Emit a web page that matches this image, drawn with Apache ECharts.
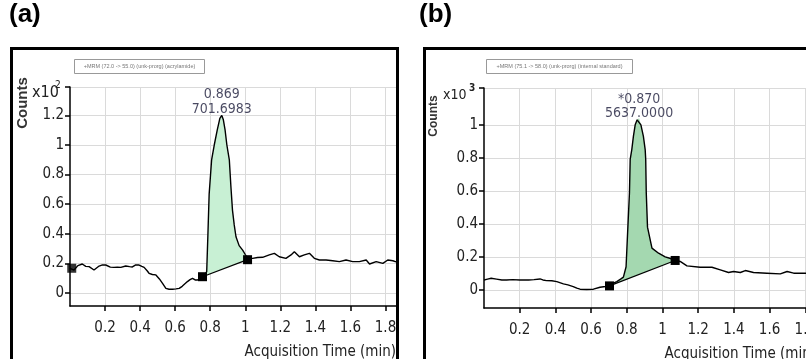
<!DOCTYPE html>
<html><head><meta charset="utf-8">
<script src="https://cdn.jsdelivr.net/npm/echarts@6/dist/echarts.min.js"></script>
<style>html,body{margin:0;padding:0;background:#fff}#c{width:806px;height:359px}</style>
</head><body><div id="c"></div>
<script>
// ---- Panel (a): acrylamide ----
const timeA = [0.00,0.023,0.045,0.07,0.09,0.109,0.137,0.166,0.185,0.204,0.23,0.251,0.27,0.29,0.318,0.34,0.356,0.375,0.394,0.41,0.423,0.44,0.451,0.47,0.49,0.51,0.528,0.547,0.565,0.585,0.605,0.623,0.64,0.651,0.67,0.685,0.699,0.714,0.728,0.742,0.756,0.77,0.78,0.787,0.794,0.808,0.823,0.84,0.855,0.866,0.875,0.885,0.895,0.909,0.918,0.927,0.937,0.947,0.965,0.985,1.0,1.013,1.042,1.07,1.099,1.137,1.166,1.194,1.232,1.261,1.28,1.309,1.337,1.366,1.394,1.423,1.461,1.499,1.537,1.575,1.613,1.651,1.69,1.709,1.747,1.785,1.813,1.842,1.86];
const countsA = [0.167,0.155,0.185,0.196,0.18,0.178,0.155,0.182,0.19,0.189,0.175,0.173,0.175,0.173,0.182,0.178,0.176,0.19,0.189,0.18,0.173,0.15,0.133,0.125,0.122,0.095,0.065,0.031,0.025,0.025,0.028,0.031,0.045,0.054,0.077,0.09,0.099,0.088,0.088,0.1,0.11,0.125,0.145,0.4,0.67,0.9,1.0,1.1,1.18,1.2,1.17,1.1,1.0,0.9,0.72,0.56,0.46,0.38,0.32,0.29,0.26,0.235,0.234,0.24,0.241,0.257,0.268,0.245,0.234,0.257,0.279,0.245,0.257,0.268,0.234,0.223,0.223,0.218,0.212,0.223,0.212,0.212,0.223,0.196,0.212,0.2,0.223,0.218,0.21];
const integMarksA = [[0.756,0.11],[1.013,0.225]];
const startMarkA = [[0.01,0.167]];
const peakPointA = [[0.866,1.2]];
const peakTextA = ['0.869','701.6983'];
const yTicksA = [0,0.2,0.4,0.6,0.8,1,1.2,1.392];
const yLabelsA = ['0','0.2','0.4','0.6','0.8','1','1.2',''];
const headerA = '+MRM (72.0 -> 55.0) (unk-prorg) (acrylamide)';

// ---- Panel (b): internal standard ----
const timeB = [0,0.02,0.04,0.07,0.1,0.127,0.16,0.2,0.25,0.28,0.314,0.33,0.35,0.38,0.408,0.445,0.47,0.5,0.52,0.538,0.575,0.613,0.65,0.68,0.703,0.725,0.744,0.765,0.781,0.796,0.806,0.815,0.819,0.828,0.837,0.847,0.858,0.869,0.879,0.893,0.903,0.906,0.909,0.916,0.941,0.978,1.015,1.045,1.071,1.099,1.137,1.211,1.277,1.324,1.37,1.398,1.436,1.464,1.51,1.585,1.66,1.698,1.735,1.8,1.86];
const countsB = [0.06,0.065,0.07,0.065,0.06,0.06,0.062,0.06,0.06,0.062,0.066,0.06,0.056,0.055,0.05,0.036,0.03,0.02,0.01,0.004,0.002,0.004,0.016,0.02,0.024,0.04,0.05,0.065,0.077,0.14,0.38,0.59,0.79,0.85,0.93,1.0,1.03,1.04,1.0,0.93,0.85,0.79,0.59,0.38,0.253,0.222,0.2,0.19,0.178,0.172,0.145,0.137,0.137,0.121,0.105,0.111,0.105,0.117,0.105,0.101,0.097,0.111,0.101,0.101,0.1];
const integMarksB = [[0.703,0.024],[1.071,0.178]];
const peakPointB = [[0.869,1.04]];
const peakTextB = ['*0.870','5637.0000'];
const yTicksB = [0,0.2,0.4,0.6,0.8,1,1.223];
const yLabelsB = ['0','0.2','0.4','0.6','0.8','1',''];
const headerB = '+MRM (75.1 -> 58.0) (unk-prorg) (internal standard)';

const xTicks = [0.2,0.4,0.6,0.8,1,1.2,1.4,1.6,1.8];
const xLabels = ['0.2','0.4','0.6','0.8','1','1.2','1.4','1.6','1.8'];

const NF = "'Liberation Sans Narrow','DejaVu Sans Condensed','Liberation Sans',sans-serif";
const zip = (a,b)=>a.map((v,i)=>[v,b[i]]);
const lookup = (ticks, labels) => v => { let bi=0, bd=1e9; ticks.forEach((t,i)=>{const d=Math.abs(t-v); if(d<bd){bd=d;bi=i;}}); return labels[bi]; };

function fillRender(times, counts, marks, color){
  return function(params, api){
    const pts=[api.coord(marks[0])];
    for(let i=0;i<times.length;i++){
      if(times[i]>marks[0][0] && times[i]<marks[1][0]) pts.push(api.coord([times[i],counts[i]]));
    }
    pts.push(api.coord(marks[1]));
    return {type:'polygon', shape:{points:pts}, style:{fill:color}};
  };
}

function xAxisCfg(gi, max, nameFs){
  return {gridIndex:gi, type:'value', min:0, max:max,
    axisLine:{onZero:false, lineStyle:{color:'#000', width:1.5}},
    axisTick:{customValues:xTicks, length:5, lineStyle:{color:'#000', width:1.5}},
    axisLabel:{customValues:xTicks, formatter:lookup(xTicks,xLabels), color:'#222', fontSize:15, fontFamily:NF, margin:15},
    splitLine:{show:true, lineStyle:{color:'#dadada', width:1}},
    name:'Acquisition Time (min)', nameLocation:'end', nameGap:0,
    nameTextStyle:{align:'right', verticalAlign:'top', padding:[39,0,0,0], fontSize:nameFs, fontFamily:NF, color:'#222'}
  };
}
function yAxisCfg(gi, min, max, ticks, labels){
  return {gridIndex:gi, type:'value', min:min, max:max,
    axisLine:{show:true, lineStyle:{color:'#000', width:1.5}},
    axisTick:{show:true, customValues:ticks, length:5, lineStyle:{color:'#000', width:1.5}},
    axisLabel:{customValues:ticks, formatter:lookup(ticks,labels), color:'#222', fontSize:15, fontFamily:NF, margin:6},
    splitLine:{show:true, lineStyle:{color:'#dadada', width:1}}
  };
}

const chart = echarts.init(document.getElementById('c'), null, {renderer:'canvas'});
chart.setOption({
  animation:false,
  backgroundColor:'#fff',
  grid:[
    {left:70, top:87, width:326, height:219, outerBoundsMode:'none', containLabel:false},
    {left:484, top:88, width:332, height:220, outerBoundsMode:'none', containLabel:false}
  ],
  xAxis:[xAxisCfg(0,1.86,15), xAxisCfg(1,1.86,15)],
  yAxis:[yAxisCfg(0,-0.088,1.392,yTicksA,yLabelsA), yAxisCfg(1,-0.11,1.223,yTicksB,yLabelsB)],
  series:[
    {type:'custom', xAxisIndex:0, yAxisIndex:0, clip:true, data:[[0,0]], renderItem:fillRender(timeA,countsA,integMarksA,'#c8f0d4'), z:1, silent:true},
    {type:'line', xAxisIndex:0, yAxisIndex:0, data:zip(timeA,countsA), showSymbol:false, lineStyle:{color:'#000', width:1.4}, z:3},
    {type:'line', xAxisIndex:0, yAxisIndex:0, data:integMarksA, symbol:'rect', symbolSize:9, showSymbol:true, itemStyle:{color:'#000'}, lineStyle:{color:'#000', width:1.2}, z:4},
    {type:'scatter', xAxisIndex:0, yAxisIndex:0, data:startMarkA, symbol:'rect', symbolSize:9, itemStyle:{color:'#000'}, z:4},
    {type:'scatter', xAxisIndex:0, yAxisIndex:0, data:peakPointA, symbolSize:0, z:5,
      label:{show:true, position:'top', distance:-1, formatter:peakTextA.join('\n'), fontSize:14, lineHeight:15, fontFamily:NF, color:'#1c1c3a'}},

    {type:'custom', xAxisIndex:1, yAxisIndex:1, clip:true, data:[[0,0]], renderItem:fillRender(timeB,countsB,integMarksB,'#a4d8b0'), z:1, silent:true},
    {type:'line', xAxisIndex:1, yAxisIndex:1, data:zip(timeB,countsB), showSymbol:false, lineStyle:{color:'#000', width:1.4}, z:3},
    {type:'line', xAxisIndex:1, yAxisIndex:1, data:integMarksB, symbol:'rect', symbolSize:9, showSymbol:true, itemStyle:{color:'#000'}, lineStyle:{color:'#000', width:1.2}, z:4},
    {type:'scatter', xAxisIndex:1, yAxisIndex:1, data:peakPointB, symbolSize:0, z:5,
      label:{show:true, position:'top', distance:-2, formatter:peakTextB.join('\n'), fontSize:14, lineHeight:14, fontFamily:NF, color:'#1c1c3a'}}
  ],
  graphic:[
    {type:'rect', z:100, shape:{x:399, y:46, width:23, height:320}, style:{fill:'#fff'}},
    {type:'rect', z:101, shape:{x:11.5, y:48.5, width:386, height:330}, style:{fill:null, stroke:'#000', lineWidth:3}},
    {type:'rect', z:101, shape:{x:424.5, y:48.5, width:400, height:330}, style:{fill:null, stroke:'#000', lineWidth:3}},
    {type:'text', z:102, left:9, top:2, style:{text:'(a)', font:"bold 26px 'Liberation Sans',Arial,sans-serif", fill:'#000'}},
    {type:'text', z:102, left:419, top:2, style:{text:'(b)', font:"bold 26px 'Liberation Sans',Arial,sans-serif", fill:'#000'}},
    {type:'rect', z:102, shape:{x:74.5, y:59.5, width:130, height:14}, style:{fill:'#fff', stroke:'#999', lineWidth:1}},
    {type:'text', z:103, x:139.5, y:66.5, style:{text:headerA, font:"5.5px 'Liberation Sans',sans-serif", fill:'#777', align:'center', verticalAlign:'middle'}},
    {type:'rect', z:102, shape:{x:486.5, y:59.5, width:146, height:14}, style:{fill:'#fff', stroke:'#999', lineWidth:1}},
    {type:'text', z:103, x:559.5, y:66.5, style:{text:headerB, font:"5.5px 'Liberation Sans',sans-serif", fill:'#777', align:'center', verticalAlign:'middle'}},
    {type:'text', z:103, x:23, y:103, rotation:Math.PI/2, style:{text:'Counts', font:"bold 15px 'Liberation Sans',sans-serif", fill:'#333', align:'center', verticalAlign:'middle'}},
    {type:'text', z:103, x:434, y:116, rotation:Math.PI/2, style:{text:'Counts', font:"bold 12px 'Liberation Sans',sans-serif", fill:'#333', align:'center', verticalAlign:'middle'}},
    {type:'text', z:103, x:32, y:93, style:{text:'x10', font:"16px "+NF, fill:'#222', verticalAlign:'middle'}},
    {type:'text', z:103, x:55, y:85, style:{text:'2', font:"10px "+NF, fill:'#222', verticalAlign:'middle'}},
    {type:'text', z:103, x:443, y:95, style:{text:'x10', font:"14px "+NF, fill:'#222', verticalAlign:'middle'}},
    {type:'text', z:103, x:469, y:88, style:{text:'3', font:"bold 10px "+NF, fill:'#222', verticalAlign:'middle'}}
  ]
});
</script></body></html>
